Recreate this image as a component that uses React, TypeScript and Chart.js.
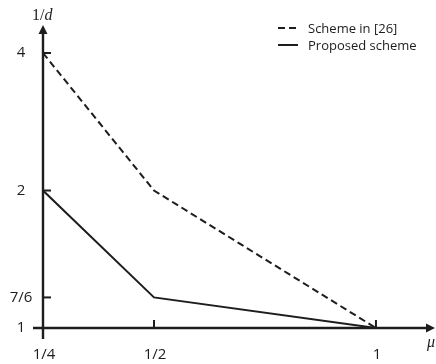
import React, { useEffect, useRef } from "react";
import { Chart, registerables } from "chart.js";

Chart.register(...registerables);

// ---- data ----
const xValues = [0.25, 0.5, 1];
const schemeIn26 = [4, 2, 1];
const proposedScheme = [2, 7 / 6, 1];
const seriesNames = ["Scheme in [26]", "Proposed scheme"];
const xTickValues = [0.25, 0.5, 1];
const xTickLabels = ["1/4", "1/2", "1"];
const yTickValues = [4, 2, 7 / 6, 1];
const yTickLabels = ["4", "2", "7/6", "1"];
const yAxisTitle = ["1/", "d"];
const xAxisTitle = "μ";

const INK = "#1e1c1d";
const SANS = '"Open Sans", "Noto Sans", sans-serif';
const SERIF = '"Liberation Serif", "DejaVu Serif", serif';

const schematicPlugin = {
  id: "schematicAxes",
  afterDraw(chart: any) {
    const ctx = chart.ctx as CanvasRenderingContext2D;
    const xs = chart.scales.x;
    const ys = chart.scales.y;
    const area = chart.chartArea;
    const x0 = xs.getPixelForValue(xValues[0]);
    const y0 = ys.getPixelForValue(1);
    ctx.save();
    ctx.strokeStyle = INK;
    ctx.fillStyle = INK;
    ctx.lineWidth = 2.4;
    ctx.setLineDash([]);
    // x axis
    ctx.beginPath();
    ctx.moveTo(x0 - 10, y0);
    ctx.lineTo(area.right - 5, y0);
    ctx.stroke();
    ctx.beginPath();
    ctx.moveTo(area.right, y0);
    ctx.lineTo(area.right - 9, y0 - 4.5);
    ctx.lineTo(area.right - 9, y0 + 4.5);
    ctx.closePath();
    ctx.fill();
    // y axis
    ctx.beginPath();
    ctx.moveTo(x0, y0 + 11);
    ctx.lineTo(x0, area.top + 5);
    ctx.stroke();
    ctx.beginPath();
    ctx.moveTo(x0, area.top);
    ctx.lineTo(x0 - 4.5, area.top + 9);
    ctx.lineTo(x0 + 4.5, area.top + 9);
    ctx.closePath();
    ctx.fill();
    // ticks
    ctx.lineWidth = 2;
    xTickValues.forEach((v) => {
      if (v === xValues[0]) return;
      const px = xs.getPixelForValue(v);
      ctx.beginPath();
      ctx.moveTo(px, y0);
      ctx.lineTo(px, y0 - 8);
      ctx.stroke();
    });
    yTickValues.forEach((v) => {
      if (v === 1) return;
      const py = ys.getPixelForValue(v);
      ctx.beginPath();
      ctx.moveTo(x0, py);
      ctx.lineTo(x0 + 8, py);
      ctx.stroke();
    });
    // tick labels
    ctx.font = `15px ${SANS}`;
    ctx.textAlign = "center";
    ctx.textBaseline = "middle";
    xTickValues.forEach((v, i) => {
      ctx.fillText(xTickLabels[i], xs.getPixelForValue(v) + 1, y0 + 27);
    });
    yTickValues.forEach((v, i) => {
      ctx.fillText(yTickLabels[i], 21, ys.getPixelForValue(v));
    });
    // axis titles
    ctx.textAlign = "left";
    ctx.textBaseline = "alphabetic";
    ctx.font = `16px ${SERIF}`;
    const w1 = ctx.measureText(yAxisTitle[0]).width;
    ctx.fillText(yAxisTitle[0], 32, 20);
    ctx.font = `italic 16px ${SERIF}`;
    ctx.fillText(yAxisTitle[1], 32 + w1, 20);
    ctx.fillText(xAxisTitle, 427, y0 + 19);
    // legend
    ctx.font = `13px ${SANS}`;
    ctx.textBaseline = "middle";
    chart.data.datasets.forEach((ds: any, i: number) => {
      const ly = 28 + i * 17;
      ctx.lineWidth = 2;
      ctx.setLineDash(ds.borderDash || []);
      ctx.beginPath();
      ctx.moveTo(278, ly);
      ctx.lineTo(298, ly);
      ctx.stroke();
      ctx.setLineDash([]);
      ctx.fillText(ds.label, 308, ly + 1);
    });
    ctx.restore();
  },
};

export default function App() {
  const ref = useRef<HTMLCanvasElement | null>(null);
  useEffect(() => {
    if (!ref.current) return;
    const toPoints = (ys: number[]) => xValues.map((x, i) => ({ x, y: ys[i] }));
    const chart = new Chart(ref.current, {
      type: "line",
      data: {
        datasets: [
          {
            label: seriesNames[0],
            data: toPoints(schemeIn26),
            borderColor: INK,
            borderWidth: 2,
            borderDash: [7, 4],
            pointRadius: 0,
            tension: 0,
          },
          {
            label: seriesNames[1],
            data: toPoints(proposedScheme),
            borderColor: INK,
            borderWidth: 2,
            pointRadius: 0,
            tension: 0,
          },
        ],
      },
      options: {
        responsive: false,
        animation: false,
        devicePixelRatio: 1,
        layout: { padding: { left: 43, right: 1, top: 25, bottom: 36 } },
        plugins: { legend: { display: false }, tooltip: { enabled: false } },
        scales: {
          x: { type: "linear", min: 0.25, max: 1.133, display: false },
          y: { type: "logarithmic", min: 1, max: 4.607, display: false },
        },
      },
      plugins: [schematicPlugin],
    });
    return () => chart.destroy();
  }, []);
  return (
    <div style={{ position: "fixed", left: 0, top: 0, width: 436, height: 364, background: "#fff" }}>
      <canvas ref={ref} width={436} height={364} />
    </div>
  );
}
